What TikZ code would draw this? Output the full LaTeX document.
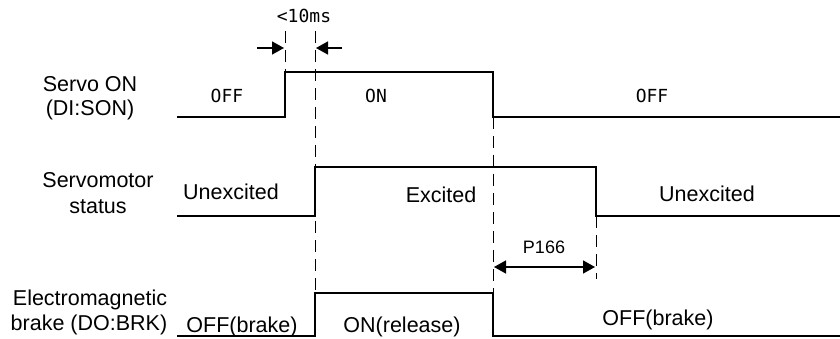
\documentclass[tikz,border=0pt]{standalone}
\usepackage{fontspec}
\setmainfont{Liberation Sans}
\newfontfamily\monofont{DejaVu Sans Mono}
\usetikzlibrary{arrows.meta}
\begin{document}
\begin{tikzpicture}[x=1pt,y=-1pt,
  wave/.style={line width=2pt,line join=miter},
  guide/.style={line width=1pt,dash pattern=on 12pt off 7pt},
  dim/.style={line width=1.5pt,-{Triangle[length=12pt,width=13pt]}},
  dimboth/.style={line width=1.5pt,{Triangle[length=12pt,width=13pt]}-{Triangle[length=12pt,width=13pt]}},
  lbl/.style={font=\fontsize{21.5}{24}\selectfont,anchor=base,inner sep=0pt},
  mono/.style={font=\fontsize{18}{20}\monofont,anchor=base,inner sep=0pt},
  small/.style={font=\fontsize{18}{20}\selectfont,anchor=base,inner sep=0pt}]
\useasboundingbox (0,0) rectangle (840,339);
\fill[white] (0,0) rectangle (840,339);

% left labels
\node[lbl] (l1a) at (90,92) {Servo ON};
\node[lbl] (l1b) at (90,116) {(DI:SON)};
\node[lbl] (l2a) at (98,188) {Servomotor};
\node[lbl] (l2b) at (98,213) {status};
\node[lbl] (l3a) at (90,305) {Electromagnetic};
\node[lbl] (l3b) at (89,330) {brake (DO:BRK)};

% key coordinates
\coordinate (s0) at (177,117); \coordinate (s1) at (285,117);
\coordinate (s2) at (285,72);  \coordinate (s3) at (493,72);
\coordinate (s4) at (493,117); \coordinate (s5) at (840,117);
\coordinate (m0) at (177,216); \coordinate (m1) at (315,216);
\coordinate (m2) at (315,167); \coordinate (m3) at (596,167);
\coordinate (m4) at (596,216); \coordinate (m5) at (840,216);
\coordinate (b0) at (177,336); \coordinate (b1) at (315,336);
\coordinate (b2) at (315,293); \coordinate (b3) at (493,293);
\coordinate (b4) at (493,336); \coordinate (b5) at (840,336);

% waveforms
\draw[wave] (s0) -- (s1) -- (s2) -- (s3) -- (s4) -- (s5);
\draw[wave] (m0) -- (m1) -- (m2) -- (m3) -- (m4) -- (m5);
\draw[wave] (b0) -- (b1) -- (b2) -- (b3) -- (b4) -- (b5);

% guide lines
\coordinate (g1t) at (285,31);
\coordinate (g2t) at (315,31);
\coordinate (g4b) at (596,279);
\draw[guide] (g1t) -- (s2);
\draw[guide] (g2t) -- (b2);
\draw[guide] (s4) -- (b3);
\draw[guide] (m4) -- (g4b);

% dimension arrows
\coordinate (a1s) at (257,48); \coordinate (a1e) at (284,48);
\coordinate (a2s) at (342,48); \coordinate (a2e) at (316,48);
\draw[dim] (a1s) -- (a1e);
\draw[dim] (a2s) -- (a2e);
\coordinate (p1) at (494,267); \coordinate (p2) at (595,267);
\draw[dimboth] (p1) -- (p2);

% texts
\node[mono] (t10) at (304,23) {<10ms};
\node[mono] (toff1) at (227,103) {OFF};
\node[mono] (ton) at (376,103) {ON};
\node[mono] (toff2) at (652,103) {OFF};
\node[lbl] (tun1) at (231,200) {Unexcited};
\node[lbl] (tex) at (441,203) {Excited};
\node[lbl] (tun2) at (707,201) {Unexcited};
\node[small] (tp) at (544,253) {P166};
\node[lbl] (tb1) at (242,332) {OFF(brake)};
\node[lbl] (tr) at (402,332) {ON(release)};
\node[lbl] (tb2) at (658,325) {OFF(brake)};
\end{tikzpicture}
\end{document}
